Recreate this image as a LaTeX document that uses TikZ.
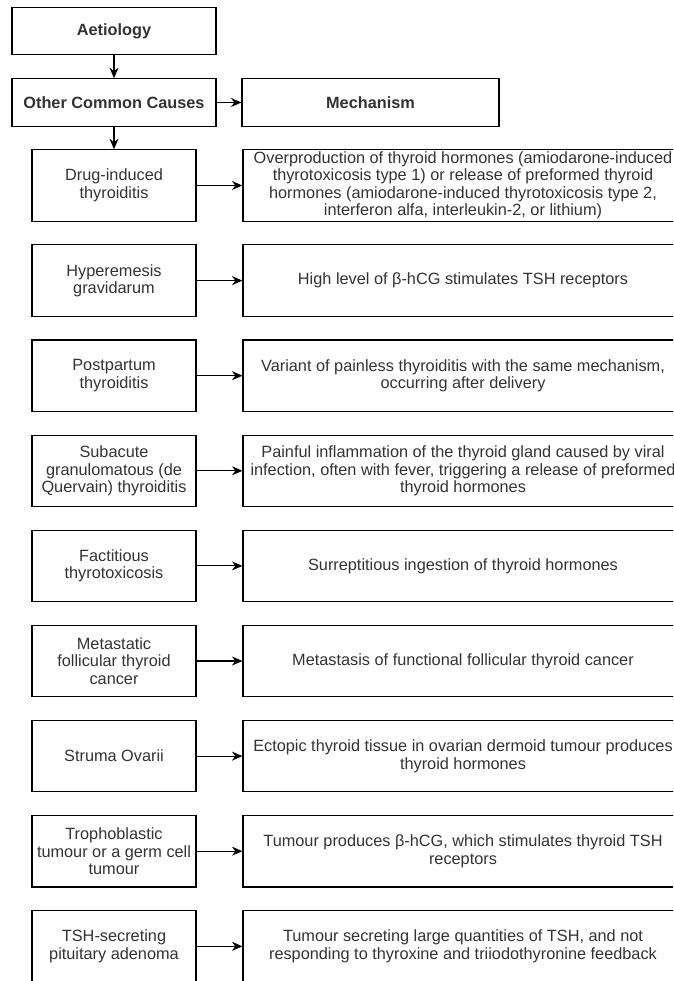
\documentclass[tikz,border=0pt]{standalone}
\usepackage{fontspec}
\setmainfont{Liberation Sans}
\usepackage{tikz}
\usetikzlibrary{arrows.meta}
\definecolor{txtgray}{HTML}{333333}

\begin{document}
\begin{tikzpicture}[x=1pt,y=-1pt,
   cause/.style={draw,line width=1.1pt,align=center,text=txtgray,inner sep=0pt,
     minimum width=164pt,minimum height=71.5pt,font=\fontsize{16.3}{17.5}\selectfont},
   mechbox/.style={cause,minimum width=440pt},
   headbox/.style={cause,minimum width=204pt,minimum height=47.5pt,font=\fontsize{16.3}{17.5}\selectfont\bfseries},
   arr/.style={-{Stealth[length=10.5pt,width=9pt]},line width=1.1pt}]
   \path[use as bounding box,fill=white] (0,0) rectangle (673,981);
   \clip (0,0) rectangle (673,981);

   \draw (114,31) node[headbox] (aetio) {Aetiology};
   \draw (114,102.5) node[headbox] (causes) {Other Common Causes};
   \draw (370.5,102.5) node[headbox,minimum width=257pt] (mech) {Mechanism};

   \draw (114,185.5) node[cause] (drug) {Drug-induced\\thyroiditis};
      \draw (463,185.5) node[mechbox] (drugm) {Overproduction of thyroid hormones (amiodarone-induced\\thyrotoxicosis type 1) or release of preformed thyroid\\hormones (amiodarone-induced thyrotoxicosis type 2,\\interferon alfa, interleukin-2, or lithium)};
   \draw (114,280.6) node[cause] (hyper) {Hyperemesis\\gravidarum};
      \draw (463,280.6) node[mechbox] (hyperm) {High level of β-hCG stimulates TSH receptors};
   \draw (114,375.7) node[cause] (postp) {Postpartum\\thyroiditis};
      \draw (463,375.7) node[mechbox] (postpm) {Variant of painless thyroiditis with the same mechanism,\\occurring after delivery};
   \draw (114,470.8) node[cause] (subac) {Subacute\\granulomatous (de\\Quervain) thyroiditis};
      \draw (463,470.8) node[mechbox] (subacm) {Painful inflammation of the thyroid gland caused by viral\\infection, often with fever, triggering a release of preformed\\thyroid hormones};
   \draw (114,565.9) node[cause] (factit) {Factitious\\thyrotoxicosis};
      \draw (463,565.9) node[mechbox] (factitm) {Surreptitious ingestion of thyroid hormones};
   \draw (114,661) node[cause] (metast) {Metastatic\\follicular thyroid\\cancer};
      \draw (463,661) node[mechbox] (metastm) {Metastasis of functional follicular thyroid cancer};
   \draw (114,756.1) node[cause] (struma) {Struma Ovarii};
      \draw (463,756.1) node[mechbox] (strumam) {Ectopic thyroid tissue in ovarian dermoid tumour produces\\thyroid hormones};
   \draw (114,851.2) node[cause] (tropho) {Trophoblastic\\tumour or a germ cell\\tumour};
      \draw (463,851.2) node[mechbox] (trophom) {Tumour produces β-hCG, which stimulates thyroid TSH\\receptors};
   \draw (114,946.3) node[cause] (tshsec) {TSH-secreting\\pituitary adenoma};
      \draw (463,946.3) node[mechbox] (tshsecm) {Tumour secreting large quantities of TSH, and not\\responding to thyroxine and triiodothyronine feedback};

   \path[arr] (aetio) edge (causes);
   \path[arr] (causes) edge (mech);
   \path[arr] (causes) edge (drug);
   \path[arr] (drug) edge (drugm);
   \path[arr] (hyper) edge (hyperm);
   \path[arr] (postp) edge (postpm);
   \path[arr] (subac) edge (subacm);
   \path[arr] (factit) edge (factitm);
   \path[arr] (metast) edge (metastm);
   \path[arr] (struma) edge (strumam);
   \path[arr] (tropho) edge (trophom);
   \path[arr] (tshsec) edge (tshsecm);

\end{tikzpicture}
\end{document}
